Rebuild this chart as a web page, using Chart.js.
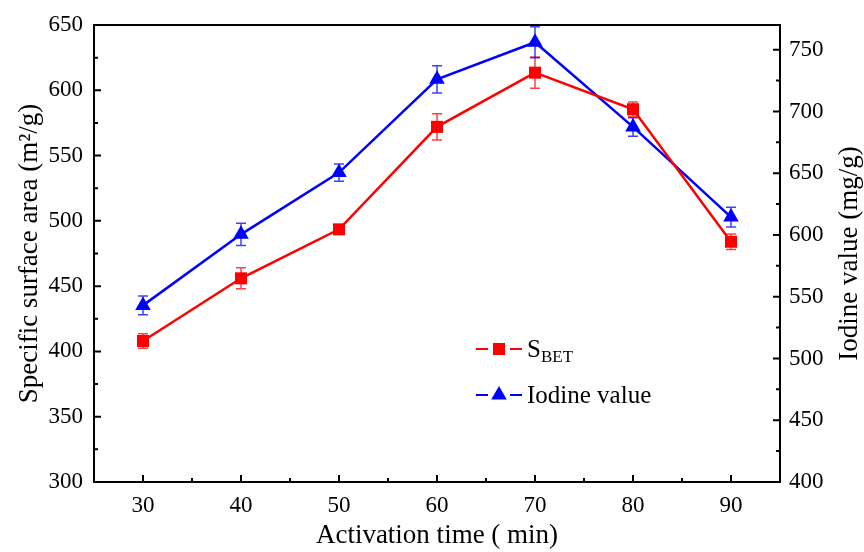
<!DOCTYPE html>
<html>
<head>
<meta charset="utf-8">
<script src="https://cdn.jsdelivr.net/npm/chart.js@4"></script>
<style>
  body { margin: 0; background: #fff; }
  #wrap { width: 864px; height: 552px; }
</style>
</head>
<body>
<div id="wrap"><canvas id="myChart" width="864" height="552"></canvas></div>
<script>
// data
const times = [30, 40, 50, 60, 70, 80, 90];
const sbet = [408, 456, 493.5, 572, 613.5, 585.5, 484];
const sbetErr = [5.5, 8, 2, 10, 12, 5.5, 6];
const iodine = [543, 600.5, 650.5, 726, 756, 687.5, 614.5];
const iodineErr = [7.5, 9, 7, 11, 12.5, 7.5, 8];

const xTicks = [30, 40, 50, 60, 70, 80, 90];
const leftTicks = [300, 350, 400, 450, 500, 550, 600, 650];
const rightTicks = [400, 450, 500, 550, 600, 650, 700, 750];

const FONT = '"Liberation Serif", "Times New Roman", serif';
const RED = '#ff0000';
const BLUE = '#0000ff';

const ctx = document.getElementById('myChart');

const setTicks = (list) => (scale) => {
    scale.ticks = list.map(v => ({ value: v }));
};

// error bars, frame, inward ticks, legend and the right title
const decor = {
    id: 'decor',
    beforeDatasetsDraw(chart) {
        const c = chart.ctx;
        const x = chart.scales.x;
        const sets = [
            { vals: sbet, err: sbetErr, scale: chart.scales.y, color: 'rgba(255,0,0,0.75)' },
            { vals: iodine, err: iodineErr, scale: chart.scales.y1, color: 'rgba(0,0,255,0.75)' }
        ];
        c.save();
        c.lineWidth = 1.5;
        sets.forEach(s => {
            c.strokeStyle = s.color;
            times.forEach((t, i) => {
                const px = x.getPixelForValue(t);
                const top = s.scale.getPixelForValue(s.vals[i] + s.err[i]);
                const bot = s.scale.getPixelForValue(s.vals[i] - s.err[i]);
                c.beginPath();
                c.moveTo(px, top); c.lineTo(px, bot);
                c.moveTo(px - 5, top); c.lineTo(px + 5, top);
                c.moveTo(px - 5, bot); c.lineTo(px + 5, bot);
                c.stroke();
            });
        });
        c.restore();
    },
    afterDraw(chart) {
        const c = chart.ctx;
        const a = chart.chartArea;
        const x = chart.scales.x, y = chart.scales.y, y1 = chart.scales.y1;
        c.save();
        c.strokeStyle = '#000';
        c.lineWidth = 2;
        c.strokeRect(a.left, a.top, a.right - a.left, a.bottom - a.top);

        c.beginPath();
        // left axis ticks
        leftTicks.forEach((v, i) => {
            const py = y.getPixelForValue(v);
            c.moveTo(a.left, py); c.lineTo(a.left + 7, py);
            if (i < leftTicks.length - 1) {
                const pm = y.getPixelForValue(v + 25);
                c.moveTo(a.left, pm); c.lineTo(a.left + 4, pm);
            }
        });
        // right axis ticks
        rightTicks.forEach(v => {
            const py = y1.getPixelForValue(v);
            c.moveTo(a.right, py); c.lineTo(a.right - 7, py);
            const pm = y1.getPixelForValue(v + 25);
            if (pm > a.top + 2) { c.moveTo(a.right, pm); c.lineTo(a.right - 4, pm); }
        });
        // bottom ticks
        xTicks.forEach(v => {
            const px = x.getPixelForValue(v);
            c.moveTo(px, a.bottom); c.lineTo(px, a.bottom - 7);
            [v - 5, v + 5].forEach(m => {
                const pm = x.getPixelForValue(m);
                c.moveTo(pm, a.bottom); c.lineTo(pm, a.bottom - 4);
            });
        });
        c.stroke();

        // legend
        const lx = 476, lw = 46;
        const items = [
            { y: 349, color: RED, style: 'rect', r: 8.5 },
            { y: 395, color: BLUE, style: 'triangle', r: 9 }
        ];
        items.forEach(it => {
            c.strokeStyle = it.color;
            c.lineWidth = 2;
            c.beginPath();
            c.moveTo(lx, it.y); c.lineTo(lx + 12, it.y);
            c.moveTo(lx + lw - 12, it.y); c.lineTo(lx + lw, it.y);
            c.stroke();
            c.fillStyle = it.color;
            Chart.helpers.drawPoint(c, { pointStyle: it.style, radius: it.r, borderWidth: 0 }, lx + lw / 2, it.y);
        });
        c.fillStyle = '#000';
        c.textBaseline = 'alphabetic';
        c.textAlign = 'left';
        c.font = '25px ' + FONT;
        c.fillText('S', 527, 357);
        const sw = c.measureText('S').width;
        c.font = '17px ' + FONT;
        c.fillText('BET', 527 + sw, 362);
        c.font = '25px ' + FONT;
        c.fillText('Iodine value', 527, 403);

        // right axis title, read bottom to top
        c.save();
        c.translate(850, (a.top + a.bottom) / 2);
        c.rotate(-Math.PI / 2);
        c.textAlign = 'center';
        c.textBaseline = 'middle';
        c.font = '27px ' + FONT;
        c.fillText('Iodine value (mg/g)', 0, 0);
        c.restore();
        c.restore();
    }
};

new Chart(ctx, {
    type: 'line',
    data: {
        datasets: [{
            label: 'S_BET',
            data: times.map((t, i) => ({ x: t, y: sbet[i] })),
            borderColor: RED,
            backgroundColor: RED,
            borderWidth: 2.5,
            pointStyle: 'rect',
            pointRadius: 8.5,
            pointBorderWidth: 0,
            yAxisID: 'y'
        }, {
            label: 'Iodine value',
            data: times.map((t, i) => ({ x: t, y: iodine[i] })),
            borderColor: BLUE,
            backgroundColor: BLUE,
            borderWidth: 2.5,
            pointStyle: 'triangle',
            pointRadius: 9,
            pointBorderWidth: 0,
            yAxisID: 'y1'
        }]
    },
    options: {
        responsive: false,
        animation: false,
        layout: { padding: { top: 25, left: 0, right: 0, bottom: 0 } },
        plugins: {
            legend: { display: false },
            tooltip: { enabled: false }
        },
        scales: {
            x: {
                type: 'linear',
                min: 25,
                max: 95,
                afterBuildTicks: setTicks(xTicks),
                afterFit: (s) => { s.height = 70; },
                grid: { display: false, drawTicks: false },
                border: { display: false },
                ticks: { color: '#000', padding: 10, font: { family: FONT, size: 23 } },
                title: {
                    display: true,
                    text: 'Activation time ( min)',
                    color: '#000',
                    padding: { top: 0, bottom: 0 },
                    font: { family: FONT, size: 27 }
                }
            },
            y: {
                position: 'left',
                min: 300,
                max: 650,
                afterBuildTicks: setTicks(leftTicks),
                afterFit: (s) => { s.width = 94; },
                grid: { display: false, drawTicks: false },
                border: { display: false },
                ticks: { color: '#000', padding: 11, font: { family: FONT, size: 23 } },
                title: {
                    display: true,
                    text: 'Specific surface area (m\u00B2/g)',
                    color: '#000',
                    padding: { top: 14, bottom: 0 },
                    font: { family: FONT, size: 27 }
                }
            },
            y1: {
                position: 'right',
                min: 400,
                max: 770,
                afterBuildTicks: setTicks(rightTicks),
                afterFit: (s) => { s.width = 84; },
                grid: { display: false, drawTicks: false },
                border: { display: false },
                ticks: { color: '#000', padding: 9, font: { family: FONT, size: 23 } }
            }
        }
    },
    plugins: [decor]
});
</script>
</body>
</html>
